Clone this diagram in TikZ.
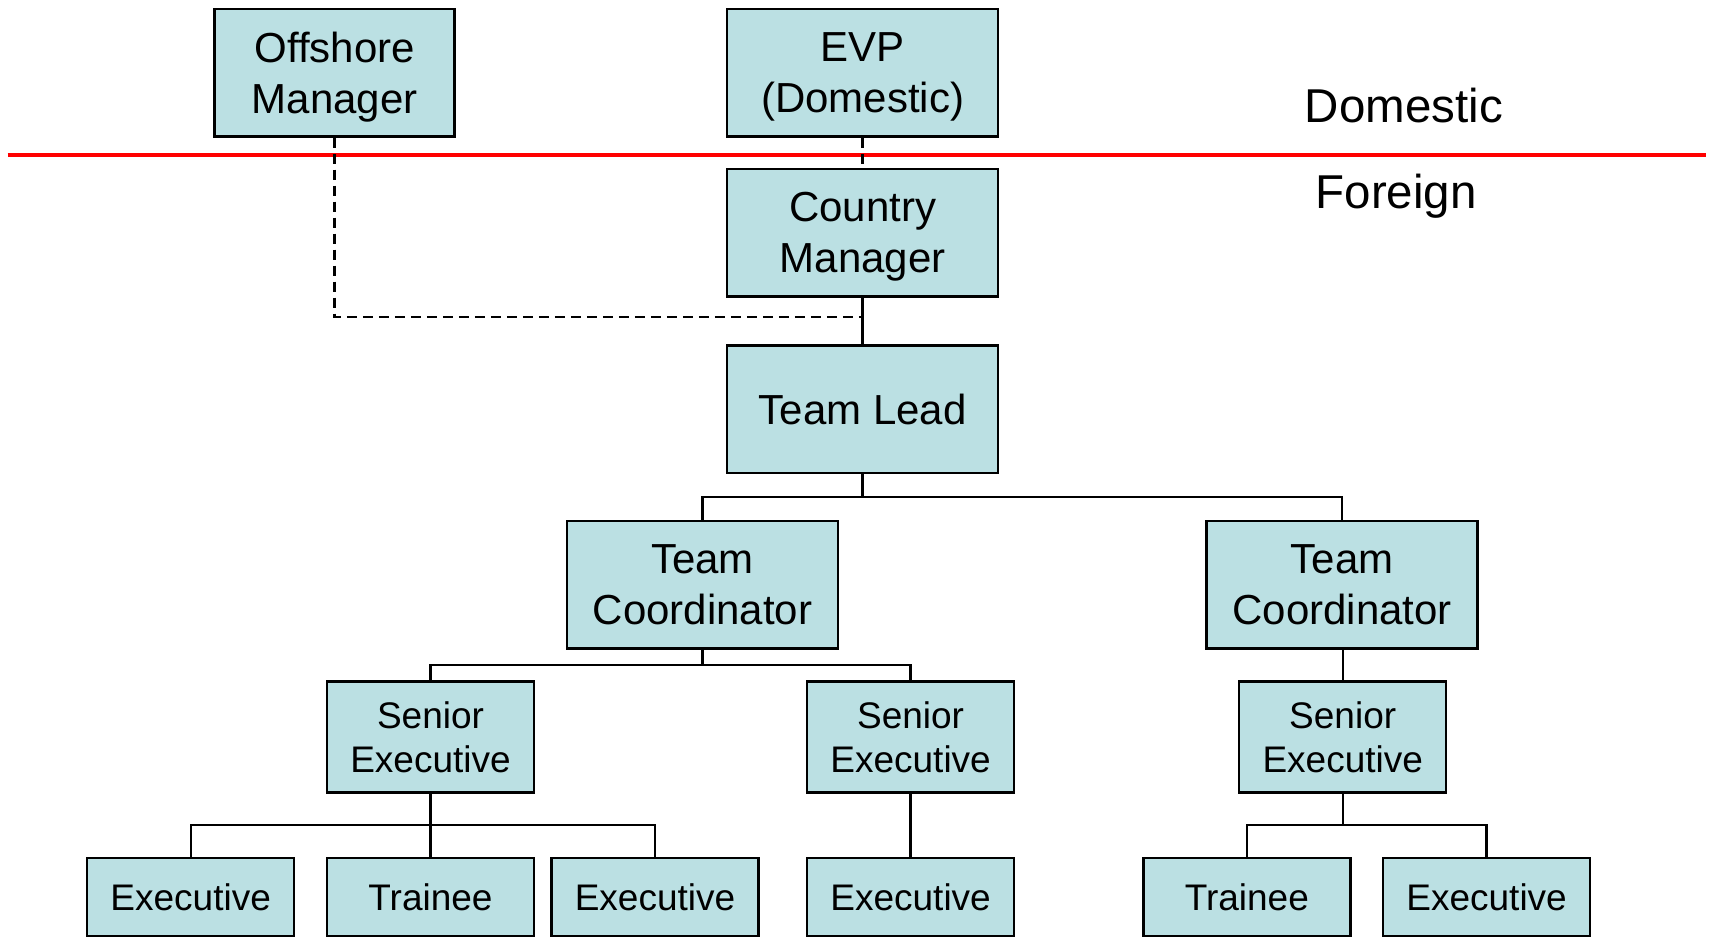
\documentclass[tikz,border=0pt]{standalone}
\usepackage{fontspec}
\setmainfont{Liberation Sans}
\definecolor{boxfill}{HTML}{BBE0E3}
\begin{document}
\begin{tikzpicture}[x=1pt,y=-1pt,
  box/.style={draw=black,line width=2.5pt,fill=boxfill,inner sep=0pt,align=center,text=black},
  bigbox/.style={box,font=\fontsize{42}{51}\selectfont,text depth=-2pt,minimum width=271pt,minimum height=127.5pt},
  topbox/.style={box,font=\fontsize{42}{51}\selectfont,text depth=-2pt,minimum height=127.5pt},
  sebox/.style={box,font=\fontsize{37}{44}\selectfont,minimum width=207pt,minimum height=111pt},
  leafbox/.style={box,font=\fontsize{37}{44}\selectfont,minimum width=207pt,minimum height=78pt},
  conn/.style={draw=black,line width=2.3pt},
  dconn/.style={draw=black,line width=2.5pt,dash pattern=on 10pt off 6pt},
  zone/.style={font=\fontsize{47.5}{56}\selectfont,text=black}]
\useasboundingbox (0,0) rectangle (1709,938);
% separator
\coordinate (sepL) at (7.6,154.8);
\coordinate (sepR) at (1705.7,154.8);
\draw[red,line width=3.6pt] (sepL) -- (sepR);
\node[zone] (dom) at (1403.8,105.7) {Domestic};
\node[zone] (for) at (1396.2,196.2) {Foreign};
% nodes
\node[topbox,minimum width=240pt] (om) at (334.6,72.5) {Offshore\\Manager};
\node[bigbox] (evp) at (862.6,72.5) {EVP\\(Domestic)};
\node[bigbox] (cm) at (862.6,232.7) {Country\\Manager};
\node[bigbox] (tl) at (862.6,409.3) {Team Lead};
\node[bigbox] (tc1) at (702.4,584.8) {Team\\Coordinator};
\node[bigbox] (tc2) at (1342.2,584.8) {Team\\Coordinator};
\node[sebox] (se1) at (430.5,736.8) {Senior\\Executive};
\node[sebox] (se2) at (910.6,736.8) {Senior\\Executive};
\node[sebox] (se3) at (1342.7,736.8) {Senior\\Executive};
\node[leafbox] (ex1) at (190.7,896.9) {Executive};
\node[leafbox] (tr1) at (430.5,896.9) {Trainee};
\node[leafbox] (ex2) at (655,896.9) {Executive};
\node[leafbox] (ex3) at (910.6,896.9) {Executive};
\node[leafbox] (tr2) at (1246.8,896.9) {Trainee};
\node[leafbox] (ex4) at (1486.6,896.9) {Executive};
% connectors
\draw[dconn] (evp.south) -- (cm.north);
\draw[conn] (cm.south) -- (tl.north);
\coordinate (j) at (cm.south |- 0,317.2);
\draw[dconn] (om.south) |- (j);
\draw[conn] (tl.south) -- (tl.south |- 0,497) -| (tc1.north);
\draw[conn] (tl.south |- 0,497) -| (tc2.north);
\draw[conn] (tc1.south) -- (tc1.south |- 0,664.8) -| (se1.north);
\draw[conn] (tc1.south |- 0,664.8) -| (se2.north);
\draw[conn] (tc2.south) -- (tc2.south -| se3.north) -- (se3.north);
\draw[conn] (se1.south) -- (tr1.north);
\draw[conn] (se1.south |- 0,825) -| (ex1.north);
\draw[conn] (se1.south |- 0,825) -| (ex2.north);
\draw[conn] (se2.south) -- (ex3.north);
\draw[conn] (se3.south) -- (se3.south |- 0,825) -| (tr2.north);
\draw[conn] (se3.south |- 0,825) -| (ex4.north);
\end{tikzpicture}
\end{document}
